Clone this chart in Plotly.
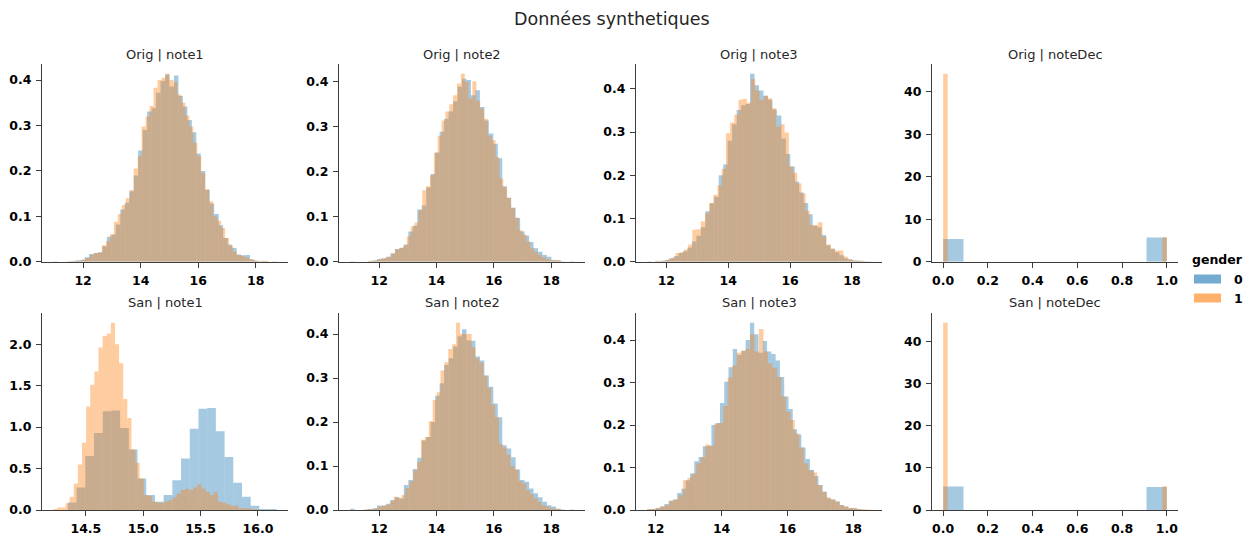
import plotly.graph_objects as go

W, H = 1249, 537

# ---------------------------------------------------------------------------
# Normalised histogram densities per gender (0 = blue, 1 = orange).
# Each *_bins tuple gives (first bin edge, bin width).
# ---------------------------------------------------------------------------
orig_note1_g0_bins = (10.96, 0.1554)
orig_note1_g0 = [0.001, 0, 0, 0.001, 0.001, 0.003, 0.004, 0.010, 0.017, 0.019,
                 0.021, 0.034, 0.055, 0.060, 0.082, 0.115, 0.130, 0.155, 0.190, 0.245,
                 0.290, 0.331, 0.338, 0.372, 0.398, 0.412, 0.386, 0.410, 0.365, 0.342,
                 0.312, 0.285, 0.238, 0.200, 0.158, 0.128, 0.105, 0.080, 0.052, 0.038,
                 0.030, 0.016, 0.014, 0.015, 0.005, 0.002, 0.001, 0.001, 0, 0.001]
orig_note1_g1_bins = (11.55, 0.138)
orig_note1_g1 = [0.002, 0.002, 0.002, 0.005, 0.008, 0.015, 0.019, 0.020, 0.036, 0.045,
                 0.060, 0.088, 0.105, 0.125, 0.140, 0.158, 0.205, 0.232, 0.298, 0.320,
                 0.343, 0.383, 0.400, 0.405, 0.414, 0.400, 0.395, 0.368, 0.350, 0.322,
                 0.298, 0.262, 0.232, 0.195, 0.160, 0.133, 0.100, 0.090, 0.074, 0.052,
                 0.035, 0.022, 0.015, 0.013, 0.010, 0.006, 0.003, 0.001, 0.002, 0.002]

orig_note2_g0_bins = (10.99, 0.156)
orig_note2_g0 = [0.001, 0, 0, 0, 0.001, 0.003, 0.006, 0.007, 0.011, 0.018,
                 0.028, 0.031, 0.038, 0.067, 0.080, 0.116, 0.125, 0.165, 0.195, 0.243,
                 0.289, 0.318, 0.334, 0.357, 0.389, 0.407, 0.404, 0.370, 0.381, 0.344,
                 0.314, 0.285, 0.262, 0.230, 0.168, 0.142, 0.120, 0.097, 0.067, 0.058,
                 0.044, 0.030, 0.022, 0.015, 0.011, 0.004, 0.003, 0.001, 0, 0.001]
orig_note2_g1_bins = (11.62, 0.1346)
orig_note2_g1 = [0.002, 0.002, 0.004, 0.007, 0.008, 0.011, 0.019, 0.027, 0.030, 0.036,
                 0.056, 0.078, 0.087, 0.115, 0.159, 0.168, 0.192, 0.242, 0.280, 0.314,
                 0.334, 0.350, 0.370, 0.396, 0.418, 0.400, 0.363, 0.401, 0.358, 0.340,
                 0.318, 0.280, 0.270, 0.232, 0.185, 0.165, 0.142, 0.120, 0.098, 0.070,
                 0.060, 0.045, 0.030, 0.022, 0.015, 0.010, 0.006, 0.004, 0.003, 0.003]

orig_note3_g0_bins = (11.38, 0.1446)
orig_note3_g0 = [0.001, 0, 0.001, 0.002, 0.004, 0.008, 0.013, 0.020, 0.024, 0.033,
                 0.047, 0.060, 0.080, 0.117, 0.135, 0.150, 0.200, 0.225, 0.280, 0.318,
                 0.351, 0.362, 0.365, 0.435, 0.408, 0.396, 0.384, 0.375, 0.352, 0.338,
                 0.285, 0.249, 0.220, 0.185, 0.160, 0.136, 0.110, 0.083, 0.080, 0.062,
                 0.038, 0.030, 0.022, 0.015, 0.008, 0.005, 0.003, 0.002, 0.001, 0.001]
orig_note3_g1_bins = (11.62, 0.1356)
orig_note3_g1 = [0.002, 0.001, 0.003, 0.006, 0.010, 0.020, 0.022, 0.028, 0.040, 0.074,
                 0.075, 0.093, 0.112, 0.136, 0.155, 0.177, 0.215, 0.297, 0.322, 0.340,
                 0.375, 0.377, 0.368, 0.423, 0.396, 0.375, 0.384, 0.378, 0.355, 0.313,
                 0.318, 0.299, 0.220, 0.206, 0.181, 0.158, 0.118, 0.085, 0.085, 0.091,
                 0.058, 0.040, 0.030, 0.026, 0.026, 0.012, 0.006, 0.003, 0.002, 0.002]

orig_notedec_g0_bins = (0.0, 1 / 11)
orig_notedec_g0 = [5.36, 0, 0, 0, 0, 0, 0, 0, 0, 0, 5.67]
orig_notedec_g1_bins = (0.0, 0.02)
orig_notedec_g1 = [44.25] + [0] * 48 + [5.75]

san_note1_g0_bins = (14.343, 0.0759)
san_note1_g0 = [0.09, 0.27, 0.65, 0.93, 1.19, 1.20, 0.99, 0.73, 0.38, 0.18,
                0.10, 0.18, 0.36, 0.62, 0.98, 1.22, 1.23, 0.95, 0.64, 0.33,
                0.16, 0.05, 0.012, 0.012]
san_note1_g1_bins = (14.215, 0.0359)
san_note1_g1 = [0.012, 0.03, 0.03, 0.08, 0.16, 0.32, 0.55, 0.81, 1.25, 1.51,
                1.67, 1.96, 2.10, 2.13, 2.26, 2.00, 1.77, 1.34, 1.11, 0.73,
                0.57, 0.38, 0.18, 0.17, 0.10, 0.09, 0.088, 0.104, 0.12, 0.15,
                0.20, 0.24, 0.256, 0.24, 0.27, 0.31, 0.26, 0.22, 0.18, 0.21,
                0.10, 0.09, 0.07, 0.05, 0.05, 0.02, 0.02, 0.02, 0.01, 0.01]

san_note2_g0_bins = (10.99, 0.156)
san_note2_g0 = [0.003, 0, 0, 0.001, 0.002, 0.004, 0.010, 0.010, 0.014, 0.023,
                0.029, 0.026, 0.057, 0.068, 0.093, 0.119, 0.158, 0.166, 0.200, 0.260,
                0.288, 0.330, 0.345, 0.372, 0.395, 0.411, 0.386, 0.385, 0.349, 0.340,
                0.306, 0.280, 0.242, 0.211, 0.147, 0.140, 0.120, 0.092, 0.068, 0.064,
                0.049, 0.038, 0.029, 0.019, 0.011, 0.008, 0.003, 0.001, 0, 0.001]
san_note2_g1_bins = (11.56, 0.1358)
san_note2_g1 = [0.002, 0.002, 0.004, 0.008, 0.010, 0.012, 0.020, 0.030, 0.028, 0.034,
                0.050, 0.065, 0.090, 0.110, 0.160, 0.166, 0.202, 0.250, 0.268, 0.317,
                0.336, 0.366, 0.377, 0.426, 0.400, 0.400, 0.400, 0.370, 0.345, 0.335,
                0.306, 0.278, 0.240, 0.211, 0.150, 0.142, 0.125, 0.100, 0.092, 0.066,
                0.060, 0.045, 0.036, 0.027, 0.018, 0.011, 0.008, 0.004, 0.003, 0.003]

san_note3_g0_bins = (11.74, 0.13)
san_note3_g0 = [0.002, 0.002, 0.005, 0.008, 0.014, 0.022, 0.025, 0.040, 0.050, 0.070,
                0.086, 0.115, 0.125, 0.150, 0.151, 0.200, 0.205, 0.252, 0.302, 0.336,
                0.379, 0.365, 0.375, 0.400, 0.441, 0.414, 0.370, 0.398, 0.373, 0.367,
                0.352, 0.313, 0.267, 0.238, 0.190, 0.178, 0.147, 0.120, 0.094, 0.080,
                0.059, 0.043, 0.027, 0.025, 0.020, 0.012, 0.008, 0.005, 0.004, 0.002]
san_note3_g1_bins = (11.74, 0.1358)
san_note3_g1 = [0.002, 0.003, 0.005, 0.009, 0.012, 0.022, 0.025, 0.035, 0.070, 0.076,
                0.086, 0.110, 0.125, 0.154, 0.151, 0.203, 0.205, 0.245, 0.312, 0.340,
                0.370, 0.375, 0.379, 0.414, 0.373, 0.426, 0.373, 0.345, 0.335, 0.313,
                0.267, 0.232, 0.212, 0.180, 0.147, 0.110, 0.094, 0.088, 0.059, 0.043,
                0.030, 0.025, 0.020, 0.012, 0.008, 0.005, 0.004, 0.002, 0.002, 0.001]

san_notedec_g0_bins = (0.0, 1 / 11)
san_notedec_g0 = [5.55, 0, 0, 0, 0, 0, 0, 0, 0, 0, 5.45]
san_notedec_g1_bins = (0.0, 0.02)
san_notedec_g1 = [44.4] + [0] * 48 + [5.6]

row_labels = ["Orig", "San"]
col_labels = ["note1", "note2", "note3", "noteDec"]
genders = ["0", "1"]

# (g0 bins, g0 heights, g1 bins, g1 heights, x dtick, y dtick, x fmt, y fmt)
panels = [
    (orig_note1_g0_bins, orig_note1_g0, orig_note1_g1_bins, orig_note1_g1, 2, 0.1, "d", ".1f"),
    (orig_note2_g0_bins, orig_note2_g0, orig_note2_g1_bins, orig_note2_g1, 2, 0.1, "d", ".1f"),
    (orig_note3_g0_bins, orig_note3_g0, orig_note3_g1_bins, orig_note3_g1, 2, 0.1, "d", ".1f"),
    (orig_notedec_g0_bins, orig_notedec_g0, orig_notedec_g1_bins, orig_notedec_g1, 0.2, 10, ".1f", "d"),
    (san_note1_g0_bins, san_note1_g0, san_note1_g1_bins, san_note1_g1, 0.5, 0.5, ".1f", ".1f"),
    (san_note2_g0_bins, san_note2_g0, san_note2_g1_bins, san_note2_g1, 2, 0.1, "d", ".1f"),
    (san_note3_g0_bins, san_note3_g0, san_note3_g1_bins, san_note3_g1, 2, 0.1, "d", ".1f"),
    (san_notedec_g0_bins, san_notedec_g0, san_notedec_g1_bins, san_notedec_g1, 0.2, 10, ".1f", "d"),
]

# ---------------------------------------------------------------------------
# Styling
# ---------------------------------------------------------------------------
FILL = ["rgba(31,119,180,0.4)", "rgba(255,127,14,0.4)"]
LEGEND_FILL = ["rgba(31,119,180,0.62)", "rgba(255,127,14,0.62)"]
SPINE = "#3c3c3c"
TICK_FONT = dict(family="DejaVu Sans", size=12.5, color="#000000", weight="bold")
TITLE_FONT = dict(family="DejaVu Sans", size=13, color="#262626")

# pixel geometry of the 2 x 4 grid of axes
COL_LEFT = [42, 339, 636, 932]
AX_W = 246
ROW_TOP = [64.3, 313.3]
ROW_BOT = [261.7, 510]


def centers(bins, heights):
    start, width = bins
    return [start + width * (i + 0.5) for i in range(len(heights))]


fig = go.Figure()
layout_axes = {}

for k, (b0, h0, b1, h1, xdt, ydt, xfmt, yfmt) in enumerate(panels):
    r, c = divmod(k, 4)
    n = k + 1
    xa = "x" if n == 1 else f"x{n}"
    ya = "y" if n == 1 else f"y{n}"

    for g, (bins, hts) in enumerate(((b0, h0), (b1, h1))):
        fig.add_trace(go.Bar(
            x=centers(bins, hts), y=hts, width=bins[1],
            marker=dict(color=FILL[g], line=dict(width=0)),
            name=genders[g], showlegend=False, hoverinfo="x+y",
            xaxis=xa, yaxis=ya,
        ))

    # matplotlib-style autoscaling: 5 % x margins, y from 0 with 5 % headroom
    lo = min(b0[0], b1[0])
    hi = max(b0[0] + b0[1] * len(h0), b1[0] + b1[1] * len(h1))
    span = hi - lo
    ytop = 1.05 * max(max(h0), max(h1))

    x0 = COL_LEFT[c] / W
    x1 = (COL_LEFT[c] + AX_W) / W
    y0 = 1 - ROW_BOT[r] / H
    y1 = 1 - ROW_TOP[r] / H

    common = dict(showline=True, linecolor=SPINE, linewidth=1, mirror=False,
                  ticks="outside", ticklen=5, tickwidth=1, tickcolor=SPINE,
                  showgrid=False, zeroline=False, tickfont=TICK_FONT,
                  tick0=0, fixedrange=True, automargin=False)
    layout_axes["xaxis" if n == 1 else f"xaxis{n}"] = dict(
        common, domain=[x0, x1], anchor=ya, range=[lo - 0.05 * span, hi + 0.05 * span],
        dtick=xdt, tickformat=xfmt, ticklabelstandoff=2)
    layout_axes["yaxis" if n == 1 else f"yaxis{n}"] = dict(
        common, domain=[y0, y1], anchor=xa, range=[0, ytop],
        dtick=ydt, tickformat=yfmt, ticklabelstandoff=2)

annotations = []
for k in range(8):
    r, c = divmod(k, 4)
    cx = (COL_LEFT[c] + AX_W / 2) / W
    ty = 55 if r == 0 else 302.5
    annotations.append(dict(
        text=f"{row_labels[r]} | {col_labels[c]}", x=cx, y=1 - ty / H,
        xref="paper", yref="paper", xanchor="center", yanchor="middle",
        showarrow=False, font=TITLE_FONT))

annotations.append(dict(
    text="Données synthetiques", x=611.5 / W, y=1 - 19.5 / H,
    xref="paper", yref="paper", xanchor="center", yanchor="middle",
    showarrow=False, font=dict(family="DejaVu Sans", size=17.5, color="#262626")))

# legend: title, colour patches and labels
annotations.append(dict(
    text="gender", x=1217.5 / W, y=1 - 260 / H, xref="paper", yref="paper",
    xanchor="center", yanchor="middle", showarrow=False, font=TICK_FONT))
shapes = []
for g, ly in enumerate([279, 298]):
    shapes.append(dict(
        type="rect", xref="paper", yref="paper",
        x0=1194 / W, x1=1221 / W, y0=1 - (ly + 4.5) / H, y1=1 - (ly - 4.5) / H,
        fillcolor=LEGEND_FILL[g], line=dict(width=0)))
    annotations.append(dict(
        text=genders[g], x=1232 / W, y=1 - ly / H, xref="paper", yref="paper",
        xanchor="left", yanchor="middle", showarrow=False, font=TICK_FONT))

fig.update_layout(
    width=W, height=H, autosize=False,
    margin=dict(l=0, r=0, t=0, b=0, autoexpand=False),
    paper_bgcolor="white", plot_bgcolor="white",
    barmode="overlay", showlegend=False,
    annotations=annotations, shapes=shapes,
    **layout_axes,
)

fig.write_html("out.html")
